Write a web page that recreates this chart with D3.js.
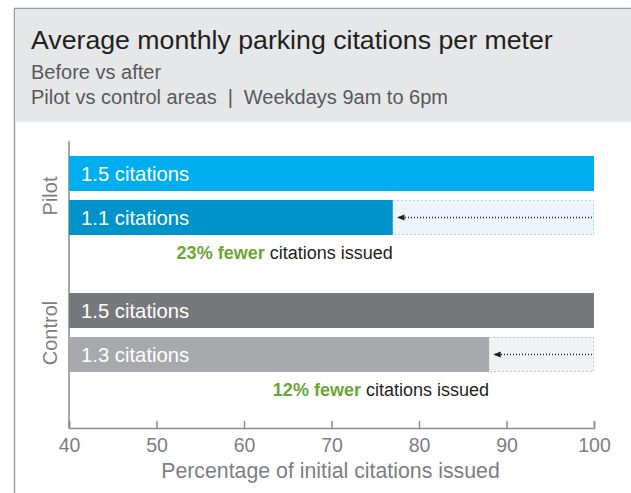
<!DOCTYPE html>
<html>
<head>
<meta charset="utf-8">
<script src="https://cdn.jsdelivr.net/npm/d3@7"></script>
<style>
  body { margin: 0; background: #fff; }
  svg { display: block; font-family: "Liberation Sans", Arial, sans-serif; }
</style>
</head>
<body>
<div id="chart"></div>
<script>
// data
const groups = ["Pilot", "Control"];
const periods = ["Before", "After"];
const citations = { Pilot: [1.5, 1.1], Control: [1.5, 1.3] };
const percentOfInitial = { Pilot: [100, 77], Control: [100, 88] };
const reductionText = { Pilot: "23% fewer", Control: "12% fewer" };
const xTicks = [40, 50, 60, 70, 80, 90, 100];

const barColors = { Pilot: ["#00aeef", "#0093c9"], Control: ["#77787b", "#a7a9ac"] };
const gapFill = { Pilot: "#edf5fc", Control: "#f1f2f3" };
const gapStroke = { Pilot: "#a9d5f0", Control: "#c8c9cb" };

const W = 631, H = 493;

let svg = d3.select("#chart")
  .append("svg")
  .attr("width", W)
  .attr("height", H);

// frame + header panel
svg.append("rect")
  .attr("x", 14.5).attr("y", 8.5)
  .attr("width", 700).attr("height", 600)
  .attr("fill", "#fff")
  .attr("stroke", "#9d9d9d")
  .attr("stroke-width", 1.5);
svg.append("rect")
  .attr("x", 15.25).attr("y", 9.25)
  .attr("width", 700).attr("height", 113)
  .attr("fill", "#e6e7e8");

svg.append("text")
  .attr("x", 31).attr("y", 49)
  .attr("font-size", 26.7)
  .attr("fill", "#231f20")
  .text("Average monthly parking citations per meter");
svg.append("text")
  .attr("x", 31).attr("y", 79)
  .attr("font-size", 20)
  .attr("fill", "#58595b")
  .text("Before vs after");
let sub2 = svg.append("text")
  .attr("x", 31).attr("y", 104)
  .attr("font-size", 20)
  .attr("fill", "#58595b");
sub2.append("tspan").text("Pilot vs control areas");
sub2.append("tspan").attr("dx", 11).text("|");
sub2.append("tspan").attr("dx", 11).text("Weekdays 9am to 6pm");

// scales
let x = d3.scaleLinear().domain([40, 100]).range([69, 594]);
let y0 = d3.scaleBand().domain(groups).range([156, 430]);
let y1 = d3.scaleBand().domain(periods).range([0, 79]).paddingInner(9 / 44);

// axes
svg.append("line")
  .attr("x1", 69).attr("x2", 69)
  .attr("y1", 141).attr("y2", 428)
  .attr("stroke", "#8a8a8d").attr("stroke-width", 1.5);

let xAxis = svg.append("g")
  .attr("transform", "translate(0,428)")
  .call(d3.axisBottom(x).tickValues(xTicks).tickSizeInner(-7).tickSizeOuter(-7).tickPadding(10));
xAxis.select(".domain").attr("stroke", "#8a8a8d").attr("stroke-width", 1.5);
xAxis.selectAll(".tick line").attr("stroke", "#8a8a8d").attr("stroke-width", 1.5);
xAxis.selectAll(".tick text")
  .attr("font-size", 19.5)
  .attr("fill", "#7d7e81")
  .attr("font-family", "Liberation Sans, Arial, sans-serif");

svg.append("text")
  .attr("x", x(70) - 1).attr("y", 478)
  .attr("text-anchor", "middle")
  .attr("font-size", 21.3)
  .attr("fill", "#7d7e81")
  .text("Percentage of initial citations issued");

// arrowhead
svg.append("defs").append("marker")
  .attr("id", "arrow")
  .attr("viewBox", "0 0 10 10")
  .attr("refX", 9).attr("refY", 5)
  .attr("markerWidth", 5).attr("markerHeight", 5)
  .attr("orient", "auto")
  .append("path")
  .attr("d", "M0,1 L10,5 L0,9 Z")
  .attr("fill", "#231f20");

groups.forEach(function(g) {
  let gy = y0(g);

  // group label
  svg.append("text")
    .attr("transform", "translate(57," + (gy + 40) + ") rotate(-90)")
    .attr("text-anchor", "middle")
    .attr("font-size", 20)
    .attr("fill", "#7d7e81")
    .text(g);

  let after = percentOfInitial[g][1];
  let rowAfter = gy + y1("After");

  // gap box between after-bar and 100%
  svg.append("rect")
    .attr("x", x(after)).attr("y", rowAfter + 0.5)
    .attr("width", x(100) - x(after) - 0.5)
    .attr("height", y1.bandwidth() - 1)
    .attr("fill", gapFill[g])
    .attr("stroke", gapStroke[g])
    .attr("stroke-width", 1)
    .attr("stroke-dasharray", "2,2");

  svg.append("line")
    .attr("x1", x(100) - 2).attr("x2", x(after) + 5)
    .attr("y1", rowAfter + y1.bandwidth() / 2)
    .attr("y2", rowAfter + y1.bandwidth() / 2)
    .attr("stroke", "#231f20")
    .attr("stroke-width", 1.5)
    .attr("stroke-dasharray", "1,2")
    .attr("marker-end", "url(#arrow)");

  // bars
  svg.selectAll("rect.bar-" + g)
    .data(periods)
    .enter()
    .append("rect")
    .attr("class", "bar-" + g)
    .attr("x", x(40))
    .attr("y", function(p) { return gy + y1(p); })
    .attr("width", function(p, i) { return x(percentOfInitial[g][i]) - x(40); })
    .attr("height", y1.bandwidth())
    .attr("fill", function(p, i) { return barColors[g][i]; });

  svg.selectAll("text.lbl-" + g)
    .data(periods)
    .enter()
    .append("text")
    .attr("class", "lbl-" + g)
    .attr("x", 81)
    .attr("y", function(p) { return gy + y1(p) + y1.bandwidth() / 2 + 7; })
    .attr("font-size", 20.3)
    .attr("fill", "#fff")
    .text(function(p, i) { return citations[g][i] + " citations"; });

  // reduction note
  let note = svg.append("text")
    .attr("x", x(after))
    .attr("y", rowAfter + y1.bandwidth() + 24)
    .attr("text-anchor", "end")
    .attr("font-size", 18);
  note.append("tspan")
    .attr("font-weight", "bold")
    .attr("fill", "#6aa632")
    .text(reductionText[g]);
  note.append("tspan")
    .attr("fill", "#231f20")
    .text(" citations issued");
});
</script>
</body>
</html>
